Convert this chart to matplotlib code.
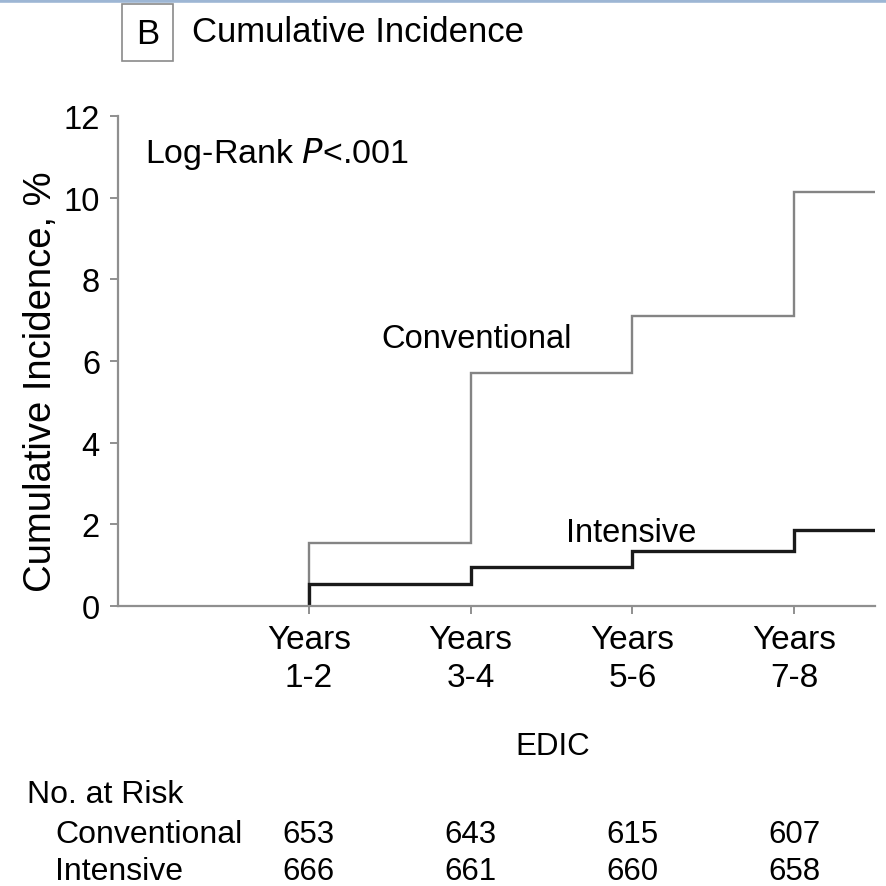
import matplotlib
matplotlib.use('Agg')
import matplotlib.pyplot as plt
from matplotlib.patches import Rectangle
from matplotlib.transforms import blended_transform_factory

plt.rcParams['font.family'] = ['Liberation Sans', 'DejaVu Sans']

# EDIC follow-up: step times (end of each 2-year window) and cumulative incidence, %
step_years = [2, 4, 6, 8]
tick_labels = ['Years\n1-2', 'Years\n3-4', 'Years\n5-6', 'Years\n7-8']
conv_pct = [1.55, 5.7, 7.1, 10.15]
int_pct = [0.55, 0.95, 1.35, 1.85]
x_end = 9

# numbers at risk under each tick
risk_groups = ['Conventional', 'Intensive']
risk_conv = [653, 643, 615, 607]
risk_int = [666, 661, 660, 658]

W, H = 886, 887
fig = plt.figure(figsize=(W / 100, H / 100), dpi=100)
ax = fig.add_axes([118 / W, 1 - 607 / H, 757 / W, 490 / H])

def stairs(vals):
    xs = [step_years[0]] + step_years + [x_end]
    ys = [0] + vals + [vals[-1]]
    return xs, ys

xs, ys = stairs(conv_pct)
ax.step(xs, ys, where='post', color='#848484', lw=1.7, solid_joinstyle='miter')
xs, ys = stairs(int_pct)
ax.step(xs, ys, where='post', color='#1a1a1a', lw=2.4, solid_joinstyle='miter')

ax.set_xlim(-0.36, x_end)
ax.set_ylim(0, 12)
ax.set_yticks(range(0, 13, 2))
ax.set_xticks(step_years)
ax.set_xticklabels(tick_labels, linespacing=1.3, fontsize=24)
for s in ('top', 'right'):
    ax.spines[s].set_visible(False)
for s in ('left', 'bottom'):
    ax.spines[s].set_color('#8f8f8f')
    ax.spines[s].set_linewidth(1.6)
ax.tick_params(length=6, width=1.4, color='#8f8f8f', pad=7)
ax.tick_params(axis='y', labelsize=23.5)

fig.text(41 / W, 1 - 382 / H, 'Cumulative Incidence, %', rotation=90,
         fontsize=27.5, ha='center', va='center')

ax.text(-0.03, 10.87, 'Log-Rank $\\it{P}$<.001', fontsize=24.5,
        ha='left', va='baseline')
ax.text(4.07, 6.34, 'Conventional', fontsize=23.5, ha='center', va='baseline')
ax.text(5.99, 1.6, 'Intensive', fontsize=23.5, ha='center', va='baseline')

# panel title with boxed letter
fig.add_artist(Rectangle((122 / W, 1 - 62 / H), 51 / W, 57 / H,
                         transform=fig.transFigure, fill=False,
                         ec='#8a8a8a', lw=1.2))
fig.text(147.5 / W, 1 - 44 / H, 'B', fontsize=25, ha='center', va='baseline')
fig.text(192 / W, 1 - 42 / H, 'Cumulative Incidence', fontsize=25,
         ha='left', va='baseline')

# thin rule along the top edge
fig.add_artist(plt.Line2D([0, 1], [1 - 1.5 / H] * 2, transform=fig.transFigure,
                          color='#9db6d4', lw=2.6))

# x-axis caption and risk table
fig.text(553 / W, 1 - 755 / H, 'EDIC', fontsize=22.5, ha='center', va='baseline')
fig.text(27 / W, 1 - 803 / H, 'No. at Risk', fontsize=23, ha='left', va='baseline')
tr = blended_transform_factory(ax.transData, fig.transFigure)
for base, name, counts in zip([843, 880], risk_groups, [risk_conv, risk_int]):
    fig.text(55 / W, 1 - base / H, name, fontsize=23, ha='left', va='baseline')
    for x, n in zip(step_years, counts):
        ax.text(x, 1 - base / H, str(n), transform=tr, fontsize=22.5,
                ha='center', va='baseline', clip_on=False)

fig.savefig('out.png', dpi=100)
